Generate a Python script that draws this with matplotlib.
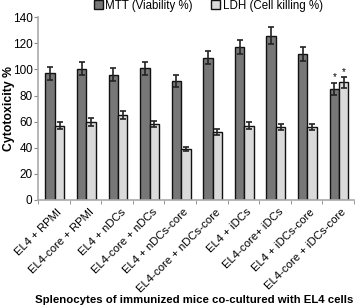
import numpy as np
import matplotlib.pyplot as plt

plt.rcParams['font.family'] = ['Liberation Sans', 'DejaVu Sans']

groups = ['EL4 + RPMI', 'EL4-core + RPMI', 'EL4 + nDCs', 'EL4-core + nDCs',
          'EL4 + nDCs-core', 'EL4-core + nDCs-core', 'EL4 + iDCs', 'EL4-core+ iDCs',
          'EL4 + iDCs-core', 'EL4-core + iDCs-core']
mtt = [97, 100.5, 96, 101, 91, 109, 117, 126, 112, 85]
mtt_err = [5, 5, 5, 5, 4.5, 5, 5.5, 6.5, 5.5, 4.5]
ldh = [57, 59.5, 65, 58, 39, 52, 57, 56, 56, 90]
ldh_err = [3, 3, 3, 2.5, 1.5, 2.5, 3, 2.5, 2.5, 4]

fig = plt.figure(figsize=(3.56, 3.08), dpi=100)
ax = fig.add_axes([0.107, 0.351, 0.887, 0.593])

x = np.arange(len(groups))
w = 0.3
ekw = dict(elinewidth=1.2, capthick=1.2, ecolor='#222222')
ax.bar(x - w / 2 + 0.03, mtt, w, yerr=mtt_err, capsize=2.5, color='#777777',
       edgecolor='#111111', linewidth=1, error_kw=ekw, label='MTT (Viability %)')
ax.bar(x + w / 2 + 0.03, ldh, w, yerr=ldh_err, capsize=2.5, color='#dadada',
       edgecolor='#111111', linewidth=1, error_kw=ekw, label='LDH (Cell killing %)')

# significance stars on last group
ax.text(x[-1] - w / 2 + 0.03, mtt[-1] + mtt_err[-1] + 2, '*', ha='center', fontsize=7)
ax.text(x[-1] + w / 2 + 0.03, ldh[-1] + ldh_err[-1] + 2, '*', ha='center', fontsize=7)

ax.set_xlim(-0.5, len(groups) - 0.5)
ax.set_ylim(0, 140)
ax.set_yticks(np.arange(0, 141, 20))
ax.tick_params(axis='y', labelsize=8.5, length=3, color='#888888', pad=1)
ax.set_xticks(x + 0.1)
ax.set_xticklabels(groups, rotation=45, ha='right', rotation_mode='anchor', fontsize=8.2)
ax.set_xticks(np.arange(-0.5, len(groups)), minor=True)
ax.tick_params(axis='x', which='major', length=0, pad=5)
ax.tick_params(axis='x', which='minor', length=3, color='#888888')

for s in ['top', 'right']:
    ax.spines[s].set_visible(False)
for s in ['left', 'bottom']:
    ax.spines[s].set_color('#aaaaaa')
    ax.spines[s].set_linewidth(1.2)

fig.text(0.025, 0.647, 'Cytotoxicity %', rotation=90, ha='center', va='center',
         fontsize=8.8, fontweight='bold')
fig.text(0.545, 0.015, 'Splenocytes of immunized mice co-cultured with EL4 cells',
         ha='center', fontsize=8.2, fontweight='bold')

fig.legend(loc='upper center', bbox_to_anchor=(0.585, 1.035), ncol=2, frameon=False,
           fontsize=8.3, handlelength=0.8, handleheight=0.8, handletextpad=0.2,
           columnspacing=1.6)

fig.savefig('out.png', dpi=100)
